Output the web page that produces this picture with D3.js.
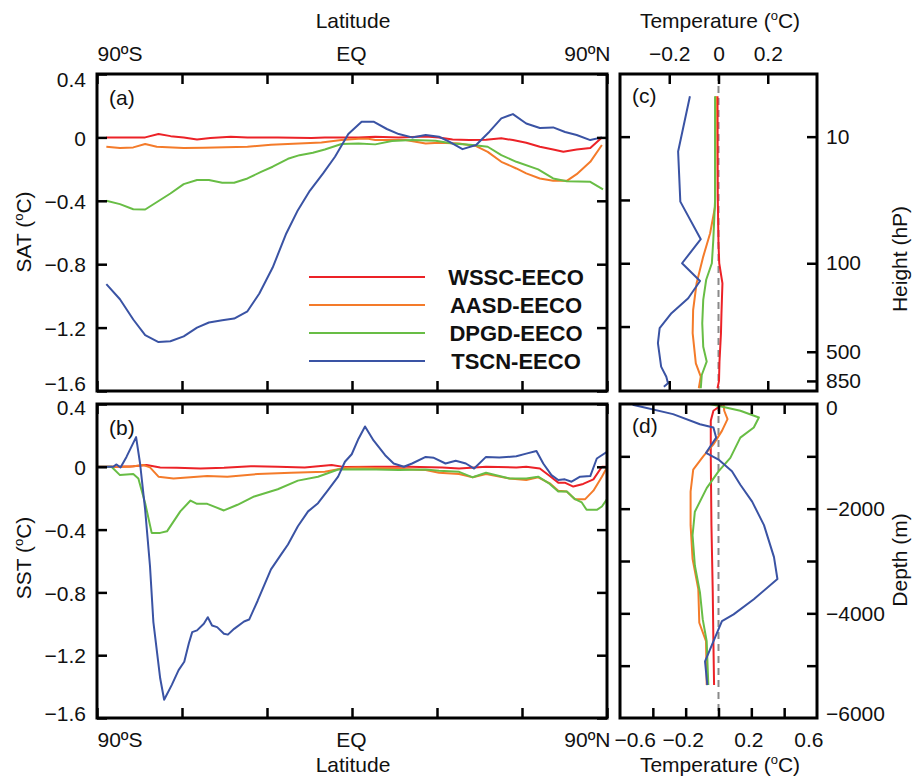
<!DOCTYPE html>
<html><head><meta charset="utf-8">
<script src="https://cdn.jsdelivr.net/npm/d3@7"></script>
<style>
body{margin:0;background:#fff}
svg{display:block}
text{font-family:"Liberation Sans",Arial,Helvetica,sans-serif;fill:#111}
</style>
</head><body>
<svg id="chart" width="914" height="778"></svg>
<script>
// ---------------- DATA ----------------
const seriesNames = ["WSSC-EECO", "AASD-EECO", "DPGD-EECO", "TSCN-EECO"];

// (a) SAT anomaly vs latitude  [lat, °C]
const satWSSC = [[-86.7,0],[-73,0],[-68.3,0.021],[-64,0.008],[-59.4,0],[-54.7,-0.013],[-50,-0.004],[-42.8,0.004],[-36.9,0],[-26.2,0],[-14.3,-0.004],[-9.6,0],[-2.5,0],[2.3,0],[8.2,0.004],[16.5,0],[26,0.006],[30.7,0],[35.5,-0.013],[41.4,-0.017],[47.3,-0.015],[52.7,-0.006],[56.8,-0.017],[61.5,-0.034],[66.3,-0.059],[71,-0.076],[74.6,-0.091],[79.3,-0.076],[84.1,-0.067],[88.2,0]];
const satAASD = [[-86.7,-0.059],[-81.9,-0.067],[-77.2,-0.063],[-73,-0.042],[-68.9,-0.059],[-59.4,-0.067],[-52.3,-0.065],[-36.9,-0.059],[-28.6,-0.046],[-10.8,-0.032],[-3.7,-0.017],[2.3,-0.008],[5.8,-0.008],[8.2,-0.017],[18.9,-0.017],[26,-0.038],[30.7,-0.034],[37.8,-0.038],[43.8,-0.055],[47.9,-0.091],[52.7,-0.154],[58,-0.196],[61.5,-0.227],[66.3,-0.259],[71,-0.274],[75.8,-0.274],[79.3,-0.232],[84.1,-0.154],[88.2,-0.048]];
const satDPGD = [[-86.7,-0.4],[-81.9,-0.421],[-77.2,-0.453],[-73,-0.455],[-64.1,-0.354],[-59.4,-0.295],[-54.7,-0.269],[-50.5,-0.269],[-45.8,-0.286],[-41.6,-0.286],[-36.9,-0.259],[-32.1,-0.217],[-28,-0.185],[-22.6,-0.135],[-18.5,-0.112],[-13.8,-0.097],[-9.6,-0.076],[-3.7,-0.042],[2.3,-0.038],[8.2,-0.044],[14.1,-0.023],[21.2,-0.017],[29.5,-0.021],[35.5,-0.038],[42.6,-0.048],[47.9,-0.059],[52.7,-0.112],[58,-0.154],[65.7,-0.202],[71,-0.259],[75.8,-0.276],[84.1,-0.28],[88.6,-0.328]];
const satTSCN = [[-86.7,-0.926],[-81.9,-1.021],[-77.2,-1.149],[-73,-1.248],[-68.3,-1.291],[-64.1,-1.286],[-59.4,-1.255],[-54.7,-1.2],[-50.5,-1.168],[-45.8,-1.154],[-41.6,-1.143],[-36.9,-1.097],[-32.7,-0.985],[-28,-0.821],[-23.2,-0.606],[-19.1,-0.459],[-14.9,-0.337],[-10.2,-0.227],[-6,-0.122],[-1.3,0.021],[3.4,0.099],[7.6,0.099],[12.3,0.053],[16.5,0.021],[21.2,0],[26,0.015],[30.7,0.004],[34.3,-0.027],[39,-0.074],[43.8,-0.048],[48.5,0.036],[52.7,0.12],[56.8,0.147],[61.5,0.088],[66.3,0.059],[71,0.063],[75.2,0.034],[79.3,0.015],[84.1,-0.017],[88.2,0]];

// (b) SST anomaly vs latitude  [lat, °C]
const sstWSSC = [[-90,0],[-83,0],[-77.2,0.004],[-72.5,0.011],[-67.7,-0.004],[-61.8,-0.006],[-53.5,-0.011],[-45.2,-0.006],[-35.7,0.004],[-26.2,0],[-16.7,-0.004],[-7.2,0.011],[-2.5,-0.002],[8.2,0],[20,0],[31.9,-0.004],[37.8,-0.011],[47.3,0],[58,-0.004],[61.5,0],[66.3,-0.011],[69.8,-0.059],[72.8,-0.101],[75.1,-0.101],[78.1,-0.126],[81.6,-0.109],[85.2,-0.08],[88.2,0],[90,0]];
const sstAASD = [[-90,0],[-78.4,0],[-73.6,0.011],[-71.3,-0.004],[-68.3,-0.063],[-63,-0.074],[-51.1,-0.059],[-44,-0.063],[-33.3,-0.046],[-21.5,-0.038],[-9.6,-0.032],[-2.5,-0.008],[2.3,-0.004],[14.1,-0.011],[26,-0.021],[30.7,-0.038],[37.8,-0.046],[42.6,-0.067],[47.3,-0.046],[55.6,-0.074],[61.5,-0.084],[65.7,-0.067],[69.8,-0.105],[72.8,-0.152],[75.8,-0.158],[78.7,-0.206],[82.3,-0.206],[85.2,-0.152],[88.2,-0.063],[90,-0.004]];
const sstDPGD = [[-90,0],[-84.9,0],[-81.9,-0.053],[-77.2,-0.046],[-75.4,-0.074],[-73,-0.232],[-70.7,-0.421],[-67.7,-0.421],[-65.3,-0.411],[-60.6,-0.284],[-57,-0.215],[-54.7,-0.236],[-51.1,-0.236],[-45.2,-0.278],[-40.4,-0.242],[-34.5,-0.189],[-26.2,-0.143],[-19.1,-0.088],[-12,-0.063],[-4.9,-0.017],[4.6,-0.015],[16.5,-0.021],[26,-0.017],[30.7,-0.025],[37.8,-0.032],[42.6,-0.067],[47.3,-0.038],[55.6,-0.074],[61.5,-0.074],[65.7,-0.063],[69.8,-0.109],[72.8,-0.158],[75.8,-0.158],[78.7,-0.206],[81.1,-0.227],[82.8,-0.274],[86.4,-0.274],[88.2,-0.253],[90,-0.206]];
const sstTSCN = [[-90,0],[-84.3,0],[-83.1,0.015],[-81.7,-0.004],[-79.6,0.063],[-76.2,0.189],[-74.8,0.021],[-73,-0.274],[-71.3,-0.632],[-70.1,-0.989],[-67.7,-1.347],[-66.3,-1.484],[-63.6,-1.389],[-61.2,-1.295],[-59.2,-1.242],[-57.6,-1.126],[-56.4,-1.053],[-54.7,-1.042],[-52.3,-1],[-50.9,-0.958],[-49.4,-1.011],[-47.6,-1.021],[-45.2,-1.063],[-43.8,-1.069],[-41.6,-1.032],[-38.1,-0.985],[-36.3,-0.973],[-33.3,-0.853],[-28.6,-0.653],[-25,-0.558],[-22.6,-0.495],[-19.1,-0.379],[-15.5,-0.284],[-12,-0.232],[-8.4,-0.147],[-4.9,-0.063],[-2.5,0.032],[-0.1,0.08],[2.3,0.179],[4.6,0.257],[7.6,0.168],[11.7,0.074],[14.7,0.021],[18.3,0],[21.2,0.021],[26,0.063],[28.9,0.057],[33,0.021],[36.6,0.038],[40.2,0.021],[43.1,-0.011],[47.3,0.063],[52,0.059],[58,0.067],[61.5,0.084],[65.1,0.101],[67.5,0.021],[70.4,-0.053],[72.8,-0.084],[75.1,-0.08],[77.5,-0.095],[80.5,-0.063],[84.1,-0.059],[86.4,0.053],[90,0.095]];

// (c) atmospheric temperature anomaly profile  [°C, hPa]
const atmWSSC = [[-0.004,4.8],[-0.003,30],[0,70],[0.003,100],[0.016,144],[0.012,250],[0.01,357],[0.004,600],[0.002,850],[-0.004,971]];
const atmAASD = [[-0.01,4.8],[-0.014,35.7],[-0.034,58],[-0.062,88.6],[-0.089,144],[-0.103,234],[-0.105,357],[-0.092,617],[-0.072,787],[-0.08,971]];
const atmDPGD = [[-0.014,4.8],[-0.014,32],[-0.021,65],[-0.027,100],[-0.05,135],[-0.062,195],[-0.066,298],[-0.062,456],[-0.048,598],[-0.068,763],[-0.072,971]];
const atmTSCN = [[-0.116,4.8],[-0.164,13.1],[-0.155,32.6],[-0.072,64.6],[-0.148,100],[-0.075,138],[-0.123,189],[-0.191,248],[-0.239,326],[-0.246,428],[-0.233,655],[-0.212,787],[-0.205,887],[-0.222,944]];

// (d) ocean temperature anomaly profile  [°C, m]
const ocnWSSC = [[0.027,0],[-0.031,-129],[-0.047,-322],[-0.047,-1029],[-0.043,-2315],[-0.035,-3601],[-0.031,-4566],[-0.027,-5370]];
const ocnAASD = [[0.031,0],[0.035,-129],[0.055,-289],[0.021,-514],[-0.031,-772],[-0.092,-997],[-0.154,-1254],[-0.17,-1672],[-0.17,-2315],[-0.158,-2958],[-0.123,-3537],[-0.117,-4180],[-0.076,-4534],[-0.072,-5370]];
const ocnDPGD = [[-0.051,0],[0.133,-129],[0.246,-257],[0.215,-450],[0.133,-643],[0.072,-1029],[0,-1286],[-0.072,-1608],[-0.144,-2058],[-0.158,-2508],[-0.144,-3087],[-0.113,-3601],[-0.096,-4116],[-0.072,-4534],[-0.062,-5370]];
const ocnTSCN = [[-0.523,-13],[-0.277,-193],[-0.113,-386],[-0.031,-450],[-0.014,-643],[-0.076,-932],[0,-1061],[0.082,-1286],[0.133,-1543],[0.205,-1865],[0.277,-2315],[0.338,-2926],[0.359,-3344],[0.215,-3730],[0.092,-4019],[0.021,-4148],[-0.031,-4534],[-0.082,-4920],[-0.068,-5370]];

// tick values / labels
const latTicks = [-90, -60, -30, 0, 30, 60, 90];
const latLabelTicks = [-90, 0, 90];
const latLabels = ["90ºS", "EQ", "90ºN"];
const anomTicks = [0.4, 0, -0.4, -0.8, -1.2, -1.6];
const tempTicksC = [-0.2, 0, 0.2];
const presTicksLeft = [10, 31.62, 100, 316.2];
const presTicks = [10, 100, 500, 850];
const depthTicks = [0, -1000, -2000, -3000, -4000, -5000, -6000];
const depthLabelTicks = [0, -2000, -4000, -6000];
const tempTicksD = [-0.4, -0.2, 0, 0.2, 0.4];
const tempLabelTicksD = [-0.6, -0.2, 0.2, 0.6];

// ---------------- LAYOUT ----------------
const colors = ["#ec2227", "#f47b2a", "#68bd45", "#3a53a4"];
const svg = d3.select("#chart");
const FS = 21;
const L = {a:{x0:97,x1:607,y0:74,y1:391}, b:{x0:97,x1:607,y0:404,y1:718},
           c:{x0:620,x1:817,y0:74,y1:391}, d:{x0:620,x1:817,y0:404,y1:718}};

const defs = svg.append("defs");
Object.entries(L).forEach(([k,p]) => {
  defs.append("clipPath").attr("id","clip-"+k).append("rect")
    .attr("x",p.x0).attr("y",p.y0).attr("width",p.x1-p.x0).attr("height",p.y1-p.y0);
});

function styleAxis(g, fs) {
  g.select(".domain").remove();
  g.selectAll(".tick line").attr("stroke","#000").attr("stroke-width",2.5);
  g.selectAll(".tick text").attr("font-size", fs || FS).attr("fill","#111")
    .attr("font-family",'"Liberation Sans",Arial,sans-serif');
  return g;
}
function frame(p) {
  svg.append("rect").attr("x",p.x0).attr("y",p.y0).attr("width",p.x1-p.x0).attr("height",p.y1-p.y0)
    .attr("fill","none").attr("stroke","#000").attr("stroke-width",3);
}
function drawLines(key, datasets, x, y) {
  const line = d3.line().x(d=>x(d[0])).y(d=>y(d[1]));
  const g = svg.append("g").attr("clip-path","url(#clip-"+key+")");
  datasets.forEach((ds,i) => {
    g.append("path").datum(ds).attr("d",line).attr("fill","none")
      .attr("stroke",colors[i]).attr("stroke-width",2).attr("stroke-linejoin","round");
  });
}
function degLabel(sel, pre, post) {
  sel.append("tspan").text(pre);
  sel.append("tspan").text("o").attr("font-size",13).attr("dy",-8);
  sel.append("tspan").text(post).attr("dy",8);
}

// ---------- panels a & b ----------
["a","b"].forEach(k => {
  const p = L[k];
  const x = d3.scaleLinear().domain([-90,90]).range([p.x0,p.x1]);
  const y = d3.scaleLinear().domain([-1.6,0.4]).range([p.y1,p.y0]);
  const data = k==="a" ? [satWSSC,satAASD,satDPGD,satTSCN] : [sstWSSC,sstAASD,sstDPGD,sstTSCN];
  drawLines(k, data, x, y);
  // left labeled axis
  const la = styleAxis(svg.append("g").attr("transform",`translate(${p.x0},0)`)
    .call(d3.axisLeft(y).tickValues(anomTicks).tickSize(-10).tickPadding(11).tickFormat(d3.format("~g"))));
  la.selectAll(".tick text").attr("y", d => d===0.4 ? (k==="a"?6:4) : (d===-1.6 ? (k==="a"?-7:-4) : 1));
  styleAxis(svg.append("g").attr("transform",`translate(${p.x1},0)`)
    .call(d3.axisRight(y).tickValues(anomTicks).tickSize(-10).tickFormat("")));
  styleAxis(svg.append("g").attr("transform",`translate(0,${p.y0})`)
    .call(d3.axisTop(x).tickValues(latTicks).tickSize(-10).tickFormat("")));
  styleAxis(svg.append("g").attr("transform",`translate(0,${p.y1})`)
    .call(d3.axisBottom(x).tickValues(latTicks).tickSize(-10).tickFormat("")));
  frame(p);
  svg.append("text").attr("x",p.x0+12).attr("y",p.y0+31).attr("font-size",FS).text(k==="a"?"(a)":"(b)");
});

// latitude labels
{
  const x = d3.scaleLinear().domain([-90,90]).range([L.a.x0,L.a.x1]);
  const fmt = d => latLabels[latLabelTicks.indexOf(d)];
  const top = styleAxis(svg.append("g").attr("transform",`translate(0,${L.a.y0})`)
    .call(d3.axisTop(x).tickValues(latLabelTicks).tickSize(0).tickPadding(13).tickFormat(fmt)));
  const bot = styleAxis(svg.append("g").attr("transform",`translate(0,${L.b.y1})`)
    .call(d3.axisBottom(x).tickValues(latLabelTicks).tickSize(0).tickPadding(14).tickFormat(fmt)));
  [top,bot].forEach(g => {
    g.selectAll(".tick text").attr("text-anchor", d => d===-90?"start":(d===90?"end":"middle"))
      .attr("dx", d => d===90? 3 : (d===0? -1 : 0));
  });
  svg.append("text").attr("x",353).attr("y",28).attr("text-anchor","middle").attr("font-size",FS).text("Latitude");
  svg.append("text").attr("x",353).attr("y",772).attr("text-anchor","middle").attr("font-size",FS).text("Latitude");
}

// legend
seriesNames.forEach((n,i) => {
  const yy = 277 + i*28;
  svg.append("line").attr("x1",309).attr("x2",425).attr("y1",yy).attr("y2",yy)
    .attr("stroke",colors[i]).attr("stroke-width",2);
  svg.append("text").attr("x",516).attr("y",yy+8).attr("text-anchor","middle")
    .attr("font-size",22).attr("font-weight","bold").text(n);
});

// y titles left
degLabel(svg.append("text").attr("transform","translate(31,232) rotate(-90)").attr("text-anchor","middle").attr("font-size",FS), "SAT (", "C)");
degLabel(svg.append("text").attr("transform","translate(31,558) rotate(-90)").attr("text-anchor","middle").attr("font-size",FS), "SST (", "C)");

// ---------- panel c ----------
{
  const p = L.c;
  const x = d3.scaleLinear().domain([-0.4,0.4]).range([p.x0,p.x1]);
  const y = d3.scaleLog().domain([3.2,1021]).range([p.y0,p.y1]);
  svg.append("line").attr("x1",x(0)).attr("x2",x(0)).attr("y1",p.y0).attr("y2",p.y1)
    .attr("stroke","#8a8a8a").attr("stroke-width",2).attr("stroke-dasharray","7,5");
  drawLines("c", [atmWSSC,atmAASD,atmDPGD,atmTSCN], x, y);
  styleAxis(svg.append("g").attr("transform",`translate(0,${p.y0})`)
    .call(d3.axisTop(x).tickValues(tempTicksC).tickSize(-10).tickPadding(13).tickFormat(d3.format("~g"))));
  styleAxis(svg.append("g").attr("transform",`translate(0,${p.y1})`)
    .call(d3.axisBottom(x).tickValues([-0.2,0.2]).tickSize(-10).tickFormat("")));
  styleAxis(svg.append("g").attr("transform",`translate(${p.x0},0)`)
    .call(d3.axisLeft(y).tickValues(presTicksLeft).tickSize(-10).tickFormat("")));
  styleAxis(svg.append("g").attr("transform",`translate(${p.x1},0)`)
    .call(d3.axisRight(y).tickValues(presTicks).tickSize(-10).tickPadding(9).tickFormat(d3.format("d"))))
    .selectAll(".tick text").attr("text-anchor","start");
  frame(p);
  svg.append("text").attr("x",p.x0+12).attr("y",p.y0+29).attr("font-size",FS).text("(c)");
  degLabel(svg.append("text").attr("x",720).attr("y",28).attr("text-anchor","middle").attr("font-size",FS), "Temperature (", "C)");
  svg.append("text").attr("transform","translate(907,259) rotate(-90)").attr("text-anchor","middle").attr("font-size",FS).text("Height (hP)");
}

// ---------- panel d ----------
{
  const p = L.d;
  const x = d3.scaleLinear().domain([-0.6,0.6]).range([p.x0,p.x1]);
  const y = d3.scaleLinear().domain([-6000,0]).range([p.y1,p.y0]);
  svg.append("line").attr("x1",x(0)).attr("x2",x(0)).attr("y1",p.y0).attr("y2",p.y1)
    .attr("stroke","#8a8a8a").attr("stroke-width",2).attr("stroke-dasharray","7,5");
  drawLines("d", [ocnWSSC,ocnAASD,ocnDPGD,ocnTSCN], x, y);
  styleAxis(svg.append("g").attr("transform",`translate(0,${p.y0})`)
    .call(d3.axisTop(x).tickValues(tempTicksD).tickSize(-10).tickFormat("")));
  styleAxis(svg.append("g").attr("transform",`translate(0,${p.y1})`)
    .call(d3.axisBottom(x).tickValues(tempTicksD).tickSize(-10).tickFormat("")));
  const bl = styleAxis(svg.append("g").attr("transform",`translate(0,${p.y1})`)
    .call(d3.axisBottom(x).tickValues(tempLabelTicksD).tickSize(0).tickPadding(14).tickFormat(d3.format("~g"))));
  bl.selectAll(".tick text").attr("text-anchor", d => d===-0.6?"start":(d===0.6?"end":"middle"))
    .attr("dx", d => d===-0.6? -6 : (d===0.6? 6 : -3));
  styleAxis(svg.append("g").attr("transform",`translate(${p.x0},0)`)
    .call(d3.axisLeft(y).tickValues(depthTicks.slice(1,-1)).tickSize(-10).tickFormat("")));
  styleAxis(svg.append("g").attr("transform",`translate(${p.x1},0)`)
    .call(d3.axisRight(y).tickValues(depthTicks.slice(1,-1)).tickSize(-10).tickFormat("")));
  const rl = styleAxis(svg.append("g").attr("transform",`translate(${p.x1},0)`)
    .call(d3.axisRight(y).tickValues(depthLabelTicks).tickSize(0).tickPadding(9).tickFormat(d3.format("d"))));
  rl.selectAll(".tick text").attr("y", d => d===0 ? 4 : (d===-6000 ? -4 : 0));
  frame(p);
  svg.append("text").attr("x",p.x0+12).attr("y",p.y0+29).attr("font-size",FS).text("(d)");
  degLabel(svg.append("text").attr("x",720).attr("y",772).attr("text-anchor","middle").attr("font-size",FS), "Temperature (", "C)");
  svg.append("text").attr("transform","translate(907,560) rotate(-90)").attr("text-anchor","middle").attr("font-size",FS).text("Depth (m)");
}
</script>
</body></html>
